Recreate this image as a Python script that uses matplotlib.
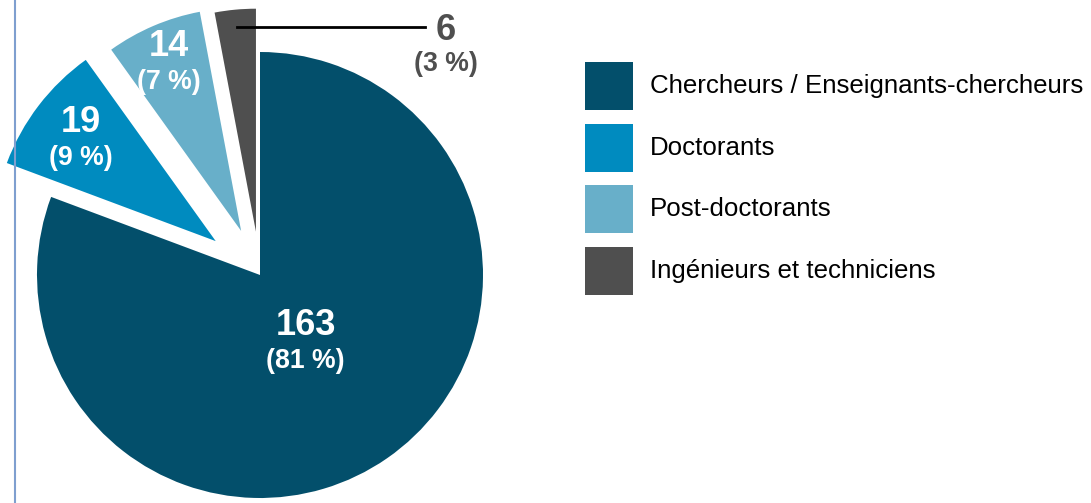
import matplotlib.pyplot as plt
import numpy as np
from matplotlib import font_manager as fm
from matplotlib.patches import Rectangle

# data
categories = ['Chercheurs / Enseignants-chercheurs', 'Doctorants',
              'Post-doctorants', 'Ingénieurs et techniciens']
counts = [163, 19, 14, 6]
percents = [81, 9, 7, 3]
colors = ['#034f6b', '#008bbf', '#68afc9', '#4f4f4f']
explode = [0, 0.25, 0.215, 0.195]

names = {f.name for f in fm.fontManager.ttflist}
narrow = 'Liberation Sans Narrow' in names
family = 'Liberation Sans Narrow' if narrow else 'Liberation Sans'
scale = 1.0 if narrow else 0.87
plt.rcParams['font.family'] = [family, 'DejaVu Sans']

W, H = 1091, 503
fig = plt.figure(figsize=(W / 100, H / 100), dpi=100)
ax = fig.add_axes([0, 0, 1, 1])

R = 223
wedges, _ = ax.pie(counts, colors=colors, explode=[e * R for e in explode],
                   startangle=90, counterclock=False, radius=R,
                   center=(260, H - 275), wedgeprops=dict(linewidth=0),
                   frame=True)
ax.set_xlim(0, W)
ax.set_ylim(0, H)
ax.set_aspect('equal')
ax.axis('off')

# left border line
ax.axvline(14.5, color='#7f9fcf', lw=1.5)

num_fs = 30 * scale
pct_fs = 22 * scale

# labels inside the wedges
label_dist = [0.36, 0.76, 0.825]
for w, n, p, f in zip(wedges[:3], counts, percents, label_dist):
    th = np.deg2rad((w.theta1 + w.theta2) / 2)
    cx, cy = w.center
    x = cx + f * w.r * np.cos(th)
    y = cy + f * w.r * np.sin(th)
    ax.text(x, y - 2, str(n), color='white', fontsize=num_fs,
            fontweight='bold', ha='center', va='bottom')
    ax.text(x, y - 7, '(%d %%)' % p, color='white', fontsize=pct_fs,
            fontweight='bold', ha='center', va='top')

# small slice label with leader line
w = wedges[3]
cx, cy = w.center
th = np.deg2rad((w.theta1 + w.theta2) / 2)
lx = cx + 0.92 * w.r * np.cos(th)
ly = cy + 0.92 * w.r * np.sin(th)
ax.plot([lx, 425], [ly, ly], color='black', lw=2)
ax.text(446, ly - 3, str(counts[3]), color='#4f4f4f', fontsize=num_fs,
        fontweight='bold', ha='center', va='center')
ax.text(446, ly - 24, '(%d %%)' % percents[3], color='#4f4f4f',
        fontsize=pct_fs, fontweight='bold', ha='center', va='top')

# legend
leg_fs = 21.5 * 0.868
for i, (lab, c) in enumerate(zip(categories, colors)):
    top = H - 62 - i * 61.7
    ax.add_patch(Rectangle((585, top - 48), 48, 48, facecolor=c,
                           edgecolor='none'))
    ax.text(650, top - 24, lab, fontsize=leg_fs, color='black',
            ha='left', va='center')

fig.savefig('out.png', dpi=100)
